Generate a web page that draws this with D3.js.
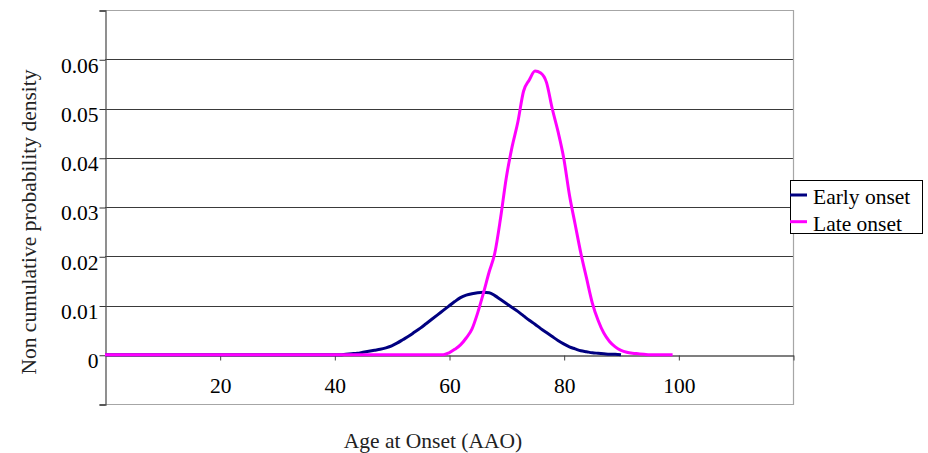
<!DOCTYPE html>
<html>
<head>
<meta charset="utf-8">
<script src="https://cdn.jsdelivr.net/npm/d3@7"></script>
<style>
    html, body { margin: 0; padding: 0; background: white; }
    svg { display: block; font-family: "Liberation Serif", "Times New Roman", "DejaVu Serif", serif; }
    .axis text { font-size: 21.5px; fill: black; font-family: "Liberation Serif", "Times New Roman", "DejaVu Serif", serif; }
    .title { font-size: 21.5px; fill: #222; }
    .legend text { font-size: 21.5px; fill: black; }
</style>
</head>
<body>
<div id="chart"></div>
<script>
// ages (x) and densities (y)
var earlyAges = [0, 40, 41, 42, 43, 44, 45, 46, 47, 48, 49, 50, 51, 52, 53, 54, 55, 56, 57, 58, 59,
    60, 61, 62, 63, 64, 65, 66, 67, 68, 69, 70, 71, 72, 73, 74, 75, 76, 77, 78, 79,
    80, 81, 82, 83, 84, 85, 86, 87, 88, 89, 90]
var earlyValues = [0, 0, 0, 0.0001, 0.0002, 0.0003, 0.0005, 0.0007, 0.0009, 0.0011, 0.0014, 0.0018, 0.0024, 0.0031, 0.0038, 0.0046, 0.0054, 0.0063, 0.0072, 0.0081, 0.0090,
    0.0099, 0.0108, 0.0116, 0.0121, 0.0124, 0.0126, 0.0127, 0.0126, 0.0120, 0.0112, 0.0104, 0.0096, 0.0088, 0.0079, 0.0070, 0.0062, 0.0053, 0.0045, 0.0037, 0.0029,
    0.0022, 0.0016, 0.0012, 0.0008, 0.0006, 0.0004, 0.0003, 0.0002, 0.0001, 0.0001, 0]

var lateAges = [0, 59, 60, 61, 62, 63, 64, 65, 66, 67, 68, 69, 70, 71, 72, 73, 74, 75, 76, 77, 78, 79,
    80, 81, 82, 83, 84, 85, 86, 87, 88, 89, 90, 91, 92, 93, 94, 95, 96, 97, 98, 99]
var lateValues = [0, 0, 0.0004, 0.0011, 0.0020, 0.0034, 0.0052, 0.0085, 0.0125, 0.0168, 0.0207, 0.0278, 0.0360, 0.0422, 0.0472, 0.0535, 0.0558, 0.0576, 0.0572, 0.0553, 0.0500, 0.0454,
    0.0400, 0.0325, 0.0265, 0.0206, 0.0155, 0.0105, 0.0070, 0.0044, 0.0027, 0.0016, 0.0009, 0.0005, 0.0003, 0.0002, 0.0001, 0, 0, 0, 0, 0]

var seriesNames = ['Early onset', 'Late onset']
var seriesColors = ['#000080', '#ff00ff']

var xTicks = [20, 40, 60, 80, 100, 120]
var xLabels = [20, 40, 60, 80, 100]
var yTicks = [-0.01, 0, 0.01, 0.02, 0.03, 0.04, 0.05, 0.06, 0.07]
var yLabels = [0, 0.01, 0.02, 0.03, 0.04, 0.05, 0.06]

var layout = {
    width: 928,
    height: 453,
    plot: { left: 105, right: 793, top: 10, bottom: 404 }
}

function drawChart(display) {
    var svg = d3.select(display).append('svg')
        .attr('width', layout.width)
        .attr('height', layout.height)

    svg.append('rect')
        .attr('width', '100%')
        .attr('height', '100%')
        .attr('fill', 'white')

    var x = d3.scaleLinear().domain([0, 120]).range([layout.plot.left, layout.plot.right])
    var y = d3.scaleLinear().domain([-0.01, 0.07]).range([layout.plot.bottom, layout.plot.top])

    // gridlines
    svg.append('g')
        .selectAll('line')
        .data(yTicks.filter(function (d) { return d > 0 && d < 0.07 }))
        .join('line')
        .attr('x1', layout.plot.left)
        .attr('x2', layout.plot.right)
        .attr('y1', function (d) { return Math.round(y(d)) + 0.5 })
        .attr('y2', function (d) { return Math.round(y(d)) + 0.5 })
        .attr('stroke', '#3a3a3a')
        .attr('stroke-width', 1)

    // plot frame (top, right, bottom)
    svg.append('path')
        .attr('d', 'M' + layout.plot.left + ',' + (layout.plot.top + 0.5)
            + 'H' + (layout.plot.right + 0.5)
            + 'V' + (layout.plot.bottom + 0.5)
            + 'H' + layout.plot.left)
        .attr('fill', 'none')
        .attr('stroke', '#a6a6a6')
        .attr('stroke-width', 1.2)

    var yAxis = svg.append('g')
        .attr('class', 'axis')
        .attr('font-family', null)
        .attr('transform', 'translate(' + (layout.plot.left + 0.5) + ',0.5)')
        .call(d3.axisLeft(y)
            .tickValues(yTicks)
            .tickSize(6)
            .tickPadding(1)
            .tickFormat(function (d) { return yLabels.indexOf(+d.toFixed(2)) >= 0 ? (d === 0 ? '0' : d.toFixed(2)) : '' }))
    yAxis.attr('font-family', null).attr('font-size', null)
    yAxis.select('.domain').attr('stroke', '#555').attr('stroke-width', 1.3)
    yAxis.selectAll('.tick line').attr('stroke', '#333')
    yAxis.selectAll('.tick text').attr('dy', '0.58em')

    var xAxis = svg.append('g')
        .attr('class', 'axis')
        .attr('transform', 'translate(0.5,' + (Math.round(y(0)) + 0.5) + ')')
        .call(d3.axisBottom(x)
            .tickValues(xTicks)
            .tickSize(5)
            .tickSizeOuter(0)
            .tickPadding(17)
            .tickFormat(function (d) { return xLabels.indexOf(d) >= 0 ? d : '' }))
    xAxis.attr('font-family', null).attr('font-size', null)
    xAxis.select('.domain').attr('stroke', '#555').attr('stroke-width', 1.3)
    xAxis.selectAll('.tick line').attr('stroke', '#444')

    var line = d3.line()
        .x(function (d) { return x(d[0]) })
        .y(function (d) { return y(d[1]) })
        .curve(d3.curveMonotoneX)

    var series = [
        d3.zip(earlyAges, earlyValues),
        d3.zip(lateAges, lateValues)
    ]

    svg.append('g')
        .selectAll('path')
        .data(series)
        .join('path')
        .attr('d', line)
        .attr('fill', 'none')
        .attr('stroke', function (d, i) { return seriesColors[i] })
        .attr('stroke-width', 3)
        .attr('stroke-linejoin', 'round')

    // axis titles
    svg.append('text')
        .attr('class', 'title')
        .attr('x', 433)
        .attr('y', 448)
        .attr('text-anchor', 'middle')
        .text('Age at Onset (AAO)')

    svg.append('text')
        .attr('class', 'title')
        .attr('transform', 'translate(36,222) rotate(-90)')
        .attr('text-anchor', 'middle')
        .text('Non cumulative probability density')

    drawLegend(svg, 790, 180)
}

function drawLegend(svg, x, y) {
    var legend = svg.append('g')
        .attr('class', 'legend')
        .attr('transform', 'translate(' + x + ', ' + y + ')')

    legend.append('rect')
        .attr('x', 0.5)
        .attr('y', 0.5)
        .attr('width', 132)
        .attr('height', 53)
        .attr('fill', 'white')
        .attr('stroke', 'black')
        .attr('stroke-width', 1)

    var items = legend.selectAll('g.item')
        .data(seriesNames)
        .join('g')
        .attr('class', 'item')
        .attr('transform', function (d, i) { return 'translate(0,' + (15 + i * 26.7) + ')' })

    items.append('line')
        .attr('x1', 0)
        .attr('x2', 17)
        .attr('stroke', function (d, i) { return seriesColors[i] })
        .attr('stroke-width', 3)

    items.append('text')
        .attr('x', 23)
        .attr('y', 9)
        .text(function (d) { return d })
}

drawChart('#chart')
</script>
</body>
</html>
